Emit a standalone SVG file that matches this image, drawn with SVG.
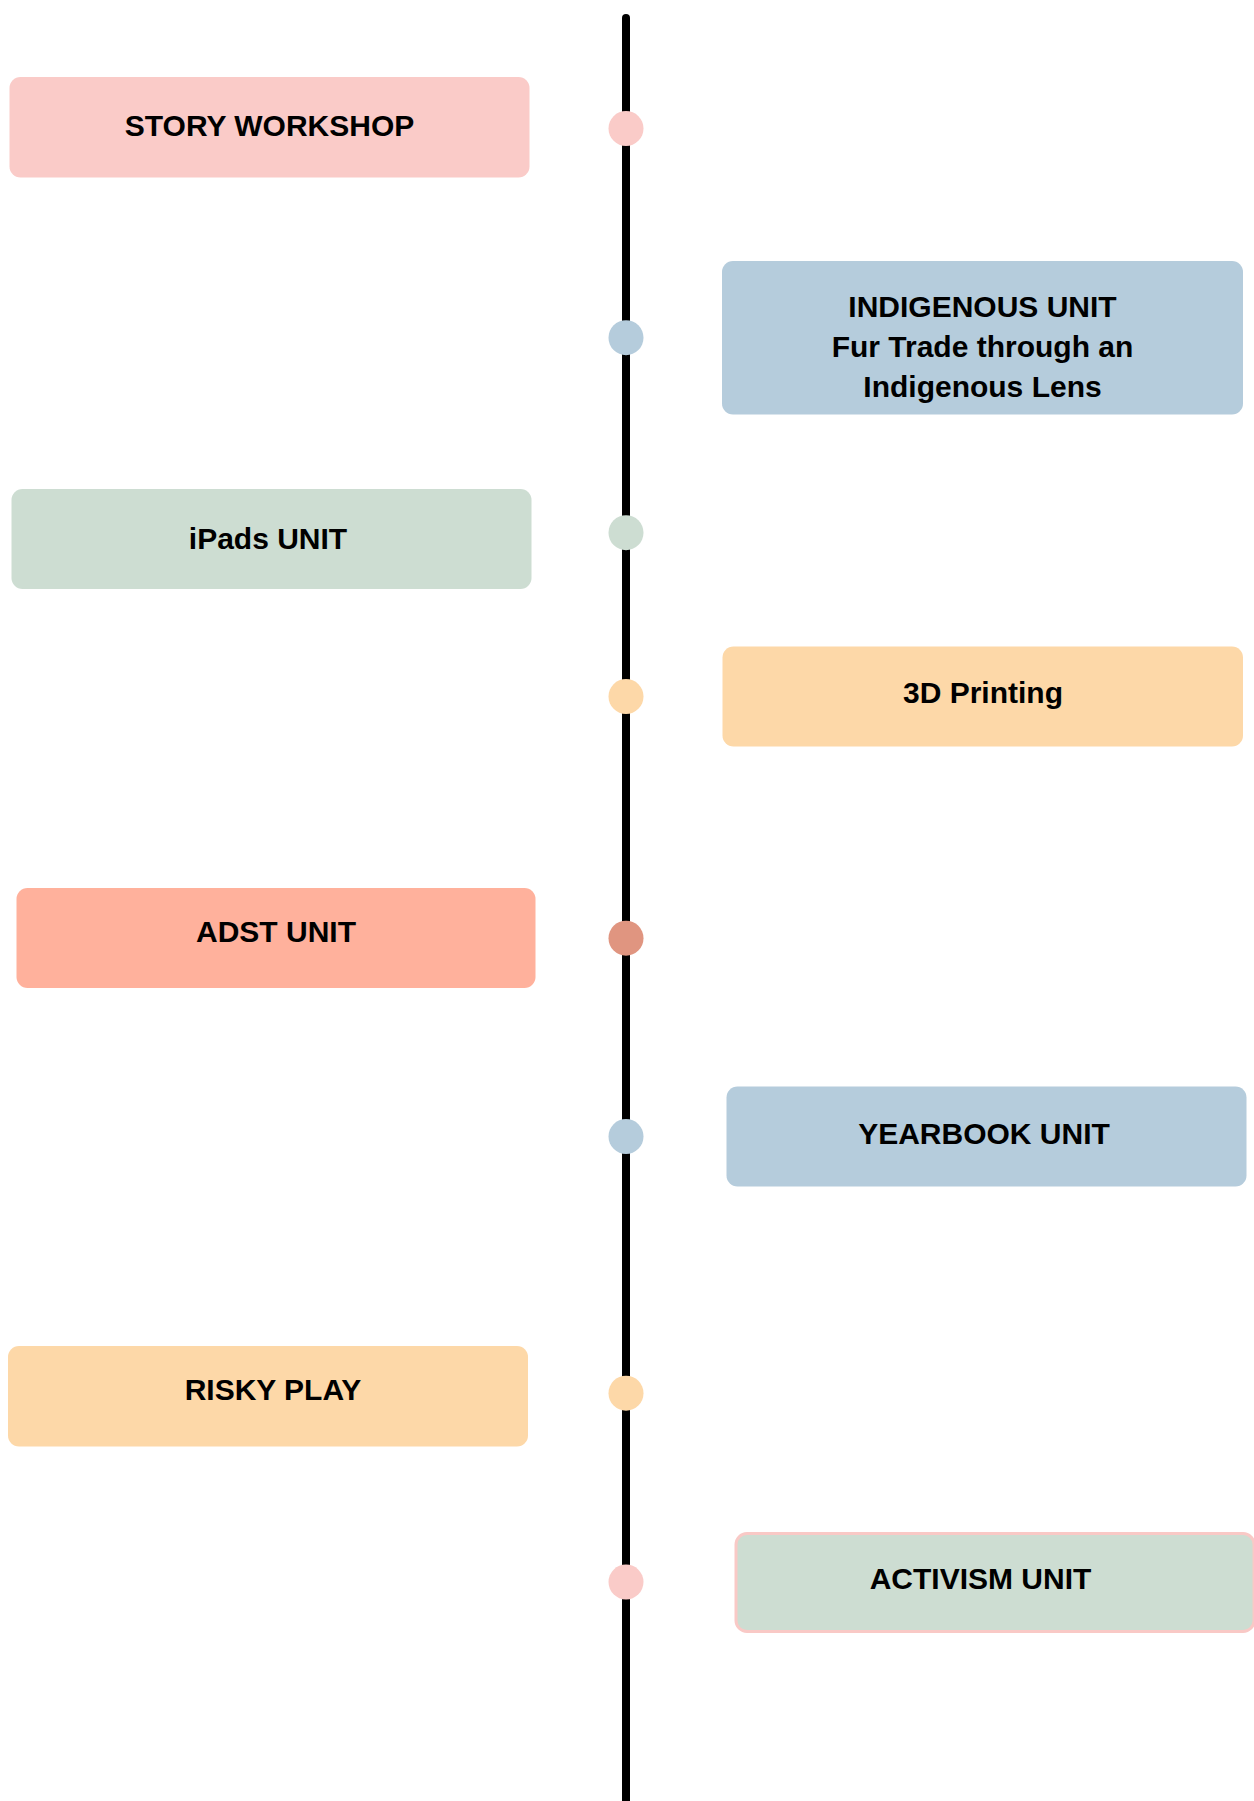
<svg xmlns="http://www.w3.org/2000/svg" width="1254" height="1801" viewBox="0 0 1254 1801">
<style>
.box{stroke:none}
.pink{fill:#FACBC8}
.blue{fill:#B5CCDC}
.green{fill:#CDDDD2}
.peach{fill:#FDD8A8}
.salmon{fill:#FFB19C}
.lbl{font-family:"Liberation Sans",Arial,sans-serif;font-weight:bold;font-size:30px;fill:#000;text-anchor:middle}
</style>
<rect width="1254" height="1801" fill="#FFFFFF"/>
<g id="connectors">
<line x1="626" y1="18" x2="626" y2="1805" stroke="#000" stroke-width="8" stroke-linecap="round"/>
</g>
<g id="node-story-workshop">
<rect class="box pink" x="9.5" y="77" width="520" height="100.5" rx="11"/>
<text class="lbl" x="269.5" y="135.5">STORY WORKSHOP</text>
<circle class="pink" cx="626" cy="128.5" r="17.5"/>
</g>
<g id="node-indigenous-unit">
<rect class="box blue" x="722" y="261" width="521" height="153.5" rx="11"/>
<text class="lbl" x="982.5" y="317">INDIGENOUS UNIT</text>
<text class="lbl" x="982.5" y="357">Fur Trade through an</text>
<text class="lbl" x="982.5" y="397">Indigenous Lens</text>
<circle class="blue" cx="626" cy="337.7" r="17.5"/>
</g>
<g id="node-ipads-unit">
<rect class="box green" x="11.5" y="489" width="520" height="100" rx="11"/>
<text class="lbl" x="268" y="548.5">iPads UNIT</text>
<circle class="green" cx="626" cy="532.7" r="17.5"/>
</g>
<g id="node-3d-printing">
<rect class="box peach" x="722.5" y="646.5" width="520.5" height="100" rx="11"/>
<text class="lbl" x="983" y="702.5">3D Printing</text>
<circle class="peach" cx="626" cy="696.5" r="17.5"/>
</g>
<g id="node-adst-unit">
<rect class="box salmon" x="16.5" y="888" width="519" height="100" rx="11"/>
<text class="lbl" x="276" y="942">ADST UNIT</text>
<circle fill="#E09580" cx="626" cy="938.2" r="17.5"/>
</g>
<g id="node-yearbook-unit">
<rect class="box blue" x="726.5" y="1086.5" width="520" height="100" rx="11"/>
<text class="lbl" x="984" y="1143.5">YEARBOOK UNIT</text>
<circle class="blue" cx="626" cy="1136.5" r="17.5"/>
</g>
<g id="node-risky-play">
<rect class="box peach" x="8" y="1346" width="520" height="100.5" rx="11"/>
<text class="lbl" x="273" y="1400">RISKY PLAY</text>
<circle class="peach" cx="626" cy="1393.2" r="17.5"/>
</g>
<g id="node-activism-unit">
<rect class="green" x="736" y="1533.5" width="518" height="98" rx="11" stroke="#F9C9C6" stroke-width="3"/>
<text class="lbl" x="980.5" y="1588.5">ACTIVISM UNIT</text>
<circle class="pink" cx="626" cy="1582" r="17.5"/>
</g>
</svg>
